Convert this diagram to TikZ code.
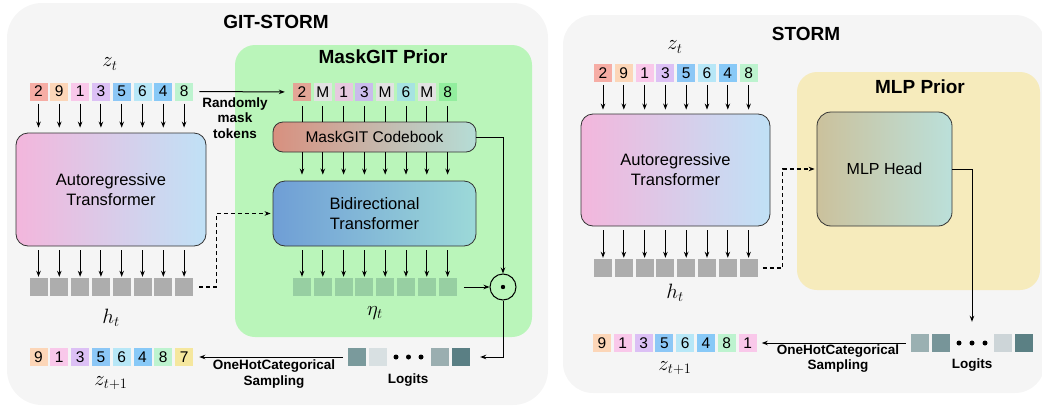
\documentclass[tikz,border=0pt]{standalone}
\usepackage[no-math]{fontspec}
\setmainfont{Liberation Sans}
\usetikzlibrary{arrows.meta, positioning}
\definecolor{panelgray}{HTML}{F5F5F5}
\definecolor{prgreen}{HTML}{BAF5BA}
\definecolor{pryellow}{HTML}{F6EBBC}
\definecolor{c2}{HTML}{F6ADA5}
\definecolor{c9}{HTML}{FCD6B8}
\definecolor{c1}{HTML}{F9C8EA}
\definecolor{c3}{HTML}{DCC0F5}
\definecolor{c5}{HTML}{8CC7F6}
\definecolor{c6}{HTML}{B7E7F7}
\definecolor{c4}{HTML}{88C9F7}
\definecolor{c8}{HTML}{BDF3CF}
\definecolor{c7}{HTML}{F5E79E}
\definecolor{m2}{HTML}{E3A596}
\definecolor{mM}{HTML}{E2E2E2}
\definecolor{m1}{HTML}{E6C9DE}
\definecolor{m3}{HTML}{C9BCEB}
\definecolor{m6}{HTML}{A6E3E1}
\definecolor{m8}{HTML}{92EE9E}
\definecolor{hgray}{HTML}{ADADAD}
\definecolor{etagreen}{HTML}{97CFA2}
% logits
\definecolor{la1}{HTML}{7A9A9C}
\definecolor{la2}{HTML}{D8E0E2}
\definecolor{la3}{HTML}{9AAEB0}
\definecolor{la4}{HTML}{5A7F84}
\definecolor{lb1}{HTML}{9AB0B2}
\definecolor{lb2}{HTML}{779599}
\definecolor{lb3}{HTML}{CDD5D8}
\definecolor{lb4}{HTML}{5B8084}
% block shadings
\definecolor{arleft}{HTML}{F3B6DC}
\definecolor{arright}{HTML}{C0E1F6}
\definecolor{cbleft}{HTML}{D8907F}
\definecolor{cbright}{HTML}{B5DDD6}
\definecolor{btleft}{HTML}{6F9ED6}
\definecolor{btright}{HTML}{9CD9D8}
\definecolor{mhleft}{HTML}{CBC19C}
\definecolor{mhright}{HTML}{BBE0DA}

\begin{document}
\begin{tikzpicture}[x=1pt, y=-1pt,
    tok/.style={minimum width=18pt, minimum height=18pt, inner sep=0pt, font=\fontsize{15.5}{15.5}\selectfont},
    cell/.style={minimum width=18pt, minimum height=18pt, inner sep=0pt},
    block/.style={draw=black!80, line width=0.8pt, rounded corners=12pt, align=center, inner sep=0pt, font=\fontsize{16.5}{20}\selectfont},
    lbl/.style={font=\bfseries\fontsize{13.5}{15.5}\selectfont, align=center, inner sep=0pt},
    ttl/.style={font=\bfseries\fontsize{19}{22}\selectfont, inner sep=0pt},
    mlab/.style={font=\fontsize{20}{24}\selectfont, inner sep=0pt},
    arr/.style={-{Stealth[length=6pt,width=4.5pt]}, line width=1pt},
    darr/.style={arr, line width=1.3pt, dash pattern=on 4pt off 3pt},
  ]
  \useasboundingbox (0,0) rectangle (1042,407);
  % panels
  \fill[panelgray, rounded corners=35pt] (7,3) rectangle (548,405);
  \fill[panelgray, rounded corners=30pt] (563,15) rectangle (1045,393);
  \fill[prgreen, rounded corners=20pt] (235,45) rectangle (532,337);
  \fill[pryellow, rounded corners=20pt] (797,72) rectangle (1040,290);
  \node[ttl] (gitttl) at (276,22) {GIT-STORM};
  \node[ttl] (maskttl) at (383,57) {MaskGIT Prior};
  \node[ttl] (stormttl) at (806,33.5) {STORM};
  \node[ttl] (mlpttl) at (920,86.5) {MLP Prior};

  % ---------- GIT-STORM ----------
  % z_t tokens
  \node[mlab] (zta) at (110,64) {$z_t$};
  \foreach \v/\c [count=\i] in {2/c2,9/c9,1/c1,3/c3,5/c5,6/c6,4/c4,8/c8}
    \node[tok, fill=\c] (za\i) at ({38.5+20.8*(\i-1)},91.5) {\v};
  % autoregressive transformer
  \node[block, minimum width=190pt, minimum height=113pt, left color=arleft, right color=arright] (ara) at (111,189.5) {Autoregressive\\Transformer};
  \foreach \i in {1,...,8} {
    \draw[arr, shorten <=3pt, shorten >=5pt] (za\i) -- (za\i |- ara.north);
    \node[cell, fill=hgray] (ha\i) at ({38.5+20.8*(\i-1)},287) {};
    \draw[arr, shorten <=4pt, shorten >=1pt] (za\i |- ara.south) -- (ha\i);
  }
  \node[mlab] (hta) at (111,318) {$h_t$};

  % masked tokens
  \foreach \v/\c [count=\i] in {2/m2,M/mM,1/m1,3/m3,M/mM,6/m6,M/mM,8/m8}
    \node[tok, fill=\c] (mk\i) at ({302+20.8*(\i-1)},92) {\v};
  \draw[arr, shorten <=6pt, shorten >=8pt] (za8) -- (mk1);
  \node[lbl] (rmt) at (235,118) {Randomly\\mask\\tokens};
  % codebook and bidirectional transformer
  \node[block, rounded corners=10pt, font=\fontsize{15.5}{18}\selectfont, minimum width=203pt, minimum height=30pt, left color=cbleft, right color=cbright] (cb) at (374.5,137) {MaskGIT Codebook};
  \node[block, minimum width=203pt, minimum height=65pt, left color=btleft, right color=btright] (bt) at (374.5,213.5) {Bidirectional\\Transformer};
  \foreach \i in {1,...,8} {
    \draw[line width=1pt, shorten <=5pt] (mk\i) -- (mk\i |- cb.north);
    \draw[arr, shorten >=6pt] (mk\i |- cb.south) -- (mk\i |- bt.north);
    \node[cell, fill=etagreen] (et\i) at ({302+20.8*(\i-1)},287) {};
    \draw[arr, shorten <=4pt, shorten >=1pt] (mk\i |- bt.south) -- (et\i);
  }
  \node[mlab] (eta) at (375,313) {$\eta_t$};
  % h_t to bidirectional transformer
  \draw[darr, shorten <=6pt, shorten >=2pt] (ha8.east) -- ++(23,0) |- (bt.west);
  % elementwise product
  \node[circle, draw, line width=1pt, minimum size=26pt, inner sep=0pt] (od) at (503,287) {};
  \fill (od.center) circle (2.2pt);
  \draw[arr, shorten <=7pt] (et8) -- (od);
  \draw[arr] (cb.east) -| (od.north);

  % logits
  \node[cell, fill=la1] (lga1) at (357,357) {};
  \node[cell, fill=la2] (lga2) at (378,357) {};
  \node[cell, minimum width=36pt] (lgad) at (408.5,357) {};
  \foreach \d in {-12.5,0,12.5}
    \fill ([xshift=\d pt]lgad.center) circle (2.5pt);
  \node[cell, fill=la3] (lga3) at (440,357) {};
  \node[cell, fill=la4] (lga4) at (461,357) {};
  \node[lbl] (lgalbl) at (408,380) {Logits};
  \draw[arr, shorten >=10pt] (od.south) |- (lga4.east);

  % z_{t+1}
  \foreach \v/\c [count=\i] in {9/c9,1/c1,3/c3,5/c5,6/c6,4/c4,8/c8,7/c7}
    \node[tok, fill=\c] (zb\i) at ({38.5+20.8*(\i-1)},357) {\v};
  \node[mlab] (ztpa) at (111,383) {$z_{t+1}$};
  \draw[arr, shorten <=5pt, shorten >=6pt] (lga1.west) -- (zb8.east);
  \node[lbl] (ohca) at (274,374) {OneHotCategorical\\Sampling};

  % ---------- STORM ----------
  \node[mlab] (ztb) at (675,47) {$z_t$};
  \foreach \v/\c [count=\i] in {2/c2,9/c9,1/c1,3/c3,5/c5,6/c6,4/c4,8/c8}
    \node[tok, fill=\c] (zc\i) at ({603+20.8*(\i-1)},73) {\v};
  \node[block, minimum width=189pt, minimum height=112pt, left color=arleft, right color=arright] (arb) at (675.5,170) {Autoregressive\\Transformer};
  \foreach \i in {1,...,8} {
    \draw[arr, shorten <=3pt, shorten >=4pt] (zc\i) -- (zc\i |- arb.north);
    \node[cell, fill=hgray] (hb\i) at ({603+20.8*(\i-1)},268) {};
    \draw[arr, shorten <=4pt, shorten >=1pt] (zc\i |- arb.south) -- (hb\i);
  }
  \node[mlab] (htb) at (675,293) {$h_t$};
  % MLP head
  \node[block, rounded corners=14pt, font=\fontsize{16}{19}\selectfont, minimum width=135pt, minimum height=114pt, left color=mhleft, right color=mhright] (mh) at (884.5,169) {MLP Head};
  \draw[darr, shorten <=5pt, shorten >=2pt] (hb8.east) -- ++(25,0) |- (mh.west);

  % logits
  \node[cell, fill=lb1] (lgb1) at (920,343) {};
  \node[cell, fill=lb2] (lgb2) at (941,343) {};
  \node[cell, minimum width=39pt] (lgbd) at (972,343) {};
  \foreach \d in {-13,0,13}
    \fill ([xshift=\d pt]lgbd.center) circle (2.5pt);
  \node[cell, fill=lb3] (lgb3) at (1003,343) {};
  \node[cell, fill=lb4] (lgb4) at (1024,343) {};
  \node[lbl] (lgblbl) at (972,365) {Logits};
  \draw[arr, shorten >=12pt] (mh.east) -| (lgbd.north);

  % z_{t+1}
  \foreach \v/\c [count=\i] in {9/c9,1/c1,3/c3,5/c5,6/c6,4/c4,8/c8,1/c1}
    \node[tok, fill=\c] (zd\i) at ({602+20.8*(\i-1)},343) {\v};
  \node[mlab] (ztpb) at (675,368) {$z_{t+1}$};
  \draw[arr, shorten <=5pt, shorten >=5pt] (lgb1.west) -- (zd8.east);
  \node[lbl] (ohcb) at (838,358.5) {OneHotCategorical\\Sampling};
\end{tikzpicture}
\end{document}
